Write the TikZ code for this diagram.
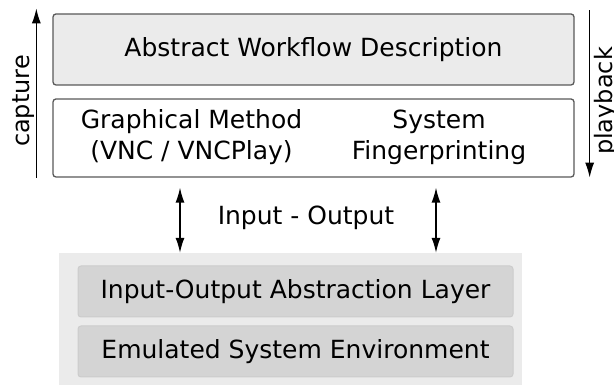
\documentclass[tikz,border=0pt]{standalone}
\usepackage{fontspec}
\setmainfont{DejaVu Sans}
\usetikzlibrary{positioning,calc,arrows.meta}
\tikzset{>=stealth}
\tikzstyle{layer} = [draw=black!65, rounded corners=3pt, line width=1.3pt,
minimum width=521pt, align=center]
\tikzstyle{emul} = [draw=black!20, fill=black!17, rounded corners=3pt,
line width=1pt, minimum width=435pt, minimum height=51pt]
\tikzstyle{line} = [draw, line width=1.3pt, -{Latex[length=15pt,width=9pt]}]

\begin{document}
\begin{tikzpicture}[x=1pt, y=1pt,
      font=\fontsize{25}{31}\selectfont,
      side/.style={rotate=90, anchor=base, font=\fontsize{24}{28}\selectfont}]
    \useasboundingbox (0,0) rectangle (614,385);
    %% emulated system underneath
    \node [fill=black!8, minimum width=463pt, minimum height=132pt, inner sep=0pt] (system) at (290.5,66) {};
    \node [emul] (iolayer) at (295.5,93.5) {Input-Output Abstraction Layer};
    \node [emul, below=8pt of iolayer] (env) {Emulated System Environment};
    %% workflow layers
    \node [layer, fill=black!8, minimum height=71pt] (abstract) at (313.5,335.5) {Abstract Workflow Description};
    \node [layer, fill=white, minimum height=78pt, below=12.7pt of abstract] (methods) {};
    \node [align=center, anchor=base] (graphical) at (191.5,225) {Graphical Method\\(VNC / VNCPlay)};
    \node [align=center, anchor=base] (finger) at (439,225) {System\\Fingerprinting};
    %% capture / playback
    \coordinate (capL) at ($(abstract.north west)+(-16pt,5pt)$);
    \coordinate (capR) at ($(abstract.north east)+(15pt,3pt)$);
    \path [line] (capL |- methods.south) to (capL);
    \path [line] (capR) to (capR |- methods.south);
    \node [side] (capture) at (29,284) {capture};
    \node [side] (playback) at (612,284) {playback};
    %% input - output
    \coordinate (ioA) at (180,0);
    \coordinate (ioB) at (436,0);
    \path [line, {Latex[length=15pt,width=9pt]}-{Latex[length=15pt,width=9pt]}, shorten <=10pt] (ioA |- methods.south) to (ioA |- system.north);
    \path [line, {Latex[length=15pt,width=9pt]}-{Latex[length=15pt,width=9pt]}, shorten <=10pt] (ioB |- methods.south) to (ioB |- system.north);
    \node [anchor=base] (io) at (306,160) {Input - Output};
\end{tikzpicture}
\end{document}
